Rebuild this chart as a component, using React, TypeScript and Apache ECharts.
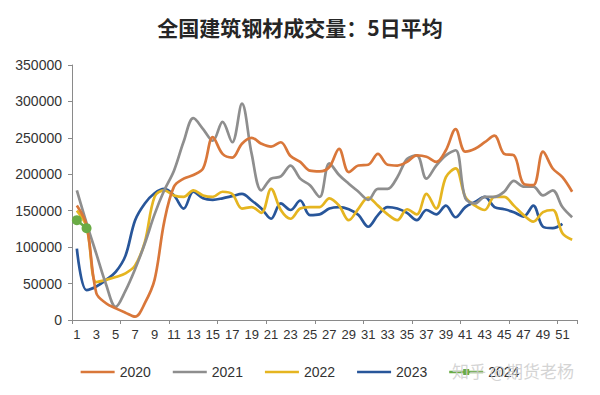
import React, { useEffect, useRef } from "react";
import * as echarts from "echarts";

const weeks: string[] = Array.from({ length: 52 }, (_, i) => String(i + 1));

const s2020: (number | null)[] = [
  157000, 130000, 37000, 23000, 16000, 10000, 4500, 23000, 55000, 135000,
  183000, 194000, 199000, 208000, 251000, 228000, 223000, 242000, 250000, 242000,
  238000, 244000, 225000, 217000, 205000, 204000, 210000, 235000, 203000, 212000,
  213000, 228000, 213000, 212000, 217000, 226000, 224000, 217000, 233000, 262000,
  231000, 235000, 244000, 253000, 228000, 226000, 187000, 185000, 231000, 208000,
  196000, 176000,
];
const s2021: (number | null)[] = [
  178000, 133000, 91000, 49000, 18000, 40000, 70000, 105000, 145000, 178000,
  205000, 245000, 277000, 262000, 246000, 272000, 244000, 297000, 228000, 178000,
  194000, 197000, 212000, 194000, 185000, 169000, 215000, 199000, 187000, 176000,
  165000, 180000, 180000, 196000, 221000, 226000, 194000, 212000, 226000, 233000,
  167000, 160000, 169000, 169000, 176000, 191000, 183000, 183000, 171000, 178000,
  155000, 141000,
];
const s2022: (number | null)[] = [
  150000, 128000, 52000, 55000, 59000, 64000, 75000, 107000, 169000, 178000,
  171000, 169000, 178000, 171000, 169000, 176000, 173000, 153000, 155000, 147000,
  180000, 151000, 139000, 153000, 155000, 155000, 167000, 157000, 137000, 153000,
  168000, 157000, 145000, 137000, 152000, 145000, 173000, 153000, 196000, 208000,
  169000, 157000, 151000, 169000, 169000, 157000, 144000, 135000, 148000, 151000,
  119000, 110000,
];
const s2023: (number | null)[] = [
  98000, 41000, 46000, 55000, 66000, 88000, 137000, 160000, 174000, 180000,
  171000, 153000, 176000, 167000, 165000, 167000, 170000, 173000, 164000, 153000,
  139000, 160000, 151000, 164000, 144000, 145000, 153000, 155000, 152000, 144000,
  128000, 144000, 155000, 153000, 147000, 137000, 151000, 145000, 157000, 141000,
  155000, 162000, 169000, 155000, 152000, 148000, 142000, 157000, 128000, 126000,
  132000, null,
];
const s2024: (number | null)[] = [137000, 126000];

const seriesNames = ["2020", "2021", "2022", "2023", "2024"];
const seriesColors = ["#D9773A", "#8E8E8E", "#E5B520", "#28569A", "#6AAB45"];

const titleText = "全国建筑钢材成交量：5日平均";
const watermarkText = "知乎 @期货老杨";

// legend icons: thin line (with invisible bbox anchors), and line with marker
const LINE_ICON =
  "path://M0,0 L0.01,0 L0,0.01 Z M34,12 L33.99,12 L34,11.99 Z M0,4.8 L34,4.8 L34,7.2 L0,7.2 Z";
const MARK_ICON =
  "path://M0,0 L0.01,0 L0,0.01 Z M34,12 L33.99,12 L34,11.99 Z M0,4.8 L14,4.8 L14,3 L20,3 L20,4.8 L34,4.8 L34,7.2 L20,7.2 L20,9 L14,9 L14,7.2 L0,7.2 Z";

export default function App() {
  const ref = useRef<HTMLDivElement>(null);
  useEffect(() => {
    if (!ref.current) return;
    const chart = echarts.init(ref.current, null, { renderer: "svg" });
    const dataSets = [s2020, s2021, s2022, s2023, s2024];
    const font = "Liberation Sans, Arial, sans-serif";
    chart.setOption({
      animation: false,
      backgroundColor: "#ffffff",
      title: {
        text: titleText,
        left: "center",
        top: 11,
        textStyle: {
          fontSize: 21,
          fontWeight: "bold",
          color: "#262626",
          fontFamily: "Noto Sans CJK SC, sans-serif",
        },
      },
      grid: { left: 72, right: 23, top: 65, bottom: 75 },
      legend: {
        data: seriesNames.map((n, i) => ({ name: n, icon: i === 4 ? MARK_ICON : LINE_ICON })),
        left: "center",
        top: 360,
        itemWidth: 34,
        itemHeight: 12,
        itemGap: 22,
        textStyle: { fontSize: 14, color: "#333333", fontFamily: font },
      },
      xAxis: {
        type: "category",
        data: weeks,
        boundaryGap: true,
        axisLine: { lineStyle: { color: "#8a8a8a", width: 1 } },
        axisTick: { show: true, interval: 4, length: 4, lineStyle: { color: "#8a8a8a" } },
        axisLabel: { interval: 1, fontSize: 13, color: "#333333", margin: 8, fontFamily: font },
        splitLine: { show: false },
      },
      yAxis: {
        type: "value",
        min: 0,
        max: 350000,
        interval: 50000,
        axisLine: { show: true, lineStyle: { color: "#8a8a8a", width: 1 } },
        axisTick: { show: true, length: 4, lineStyle: { color: "#8a8a8a" } },
        axisLabel: {
          fontSize: 14,
          color: "#333333",
          margin: 10,
          fontFamily: font,
          formatter: (v: number) => String(v),
        },
        splitLine: { show: false },
      },
      series: seriesNames.map((name, i) => ({
        name,
        type: "line",
        data: dataSets[i],
        smooth: 0.35,
        symbol: i === 4 ? "circle" : "none",
        symbolSize: 10,
        showSymbol: i === 4,
        showAllSymbol: true,
        connectNulls: false,
        lineStyle: { width: 2.7, color: seriesColors[i] },
        itemStyle: { color: seriesColors[i] },
        z: i === 4 ? 10 : 2 + (3 - i),
      })),
      graphic: [
        {
          type: "text",
          left: 452,
          top: 362,
          z: 100,
          style: {
            text: watermarkText,
            fontSize: 17,
            fill: "rgba(205,205,205,0.85)",
            fontFamily: "Noto Sans CJK SC, sans-serif",
          },
        },
      ],
    });
    return () => chart.dispose();
  }, []);
  return (
    <div
      ref={ref}
      style={{ position: "fixed", left: 0, top: 0, width: 600, height: 395 }}
    />
  );
}
